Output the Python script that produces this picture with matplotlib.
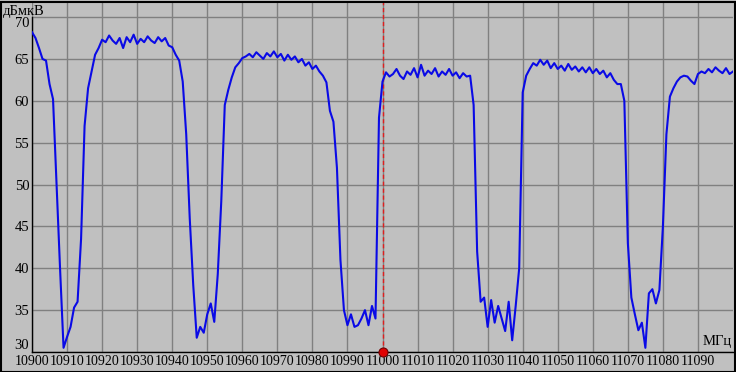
import numpy as np
import matplotlib
matplotlib.use("Agg")
import matplotlib.pyplot as plt
from matplotlib.patches import Rectangle

plt.rcParams['font.family'] = ['Liberation Serif', 'DejaVu Serif']

# Frequency, MHz (1 MHz step) and level, dBuV
freq_start = 10900
level = [
    68.2, 67.5, 66.3, 65.0, 64.8, 62.0, 60.2, 50.0, 40.0, 30.5,   # 10900
    31.8, 33.0, 35.3, 36.0, 43.5, 57.0, 61.5, 63.5, 65.5, 66.3,   # 10910
    67.3, 67.0, 67.8, 67.2, 66.8, 67.5, 66.3, 67.6, 67.0, 67.9,   # 10920
    66.8, 67.4, 67.0, 67.7, 67.2, 66.9, 67.6, 67.1, 67.5, 66.6,   # 10930
    66.4, 65.5, 64.8, 62.3, 56.0, 46.0, 38.0, 31.7, 33.0, 32.3,   # 10940
    34.5, 35.8, 33.6, 39.3, 48.0, 59.5, 61.3, 62.8, 64.0, 64.5,   # 10950
    65.1, 65.3, 65.6, 65.2, 65.8, 65.4, 65.0, 65.7, 65.3, 65.9,   # 10960
    65.2, 65.6, 64.8, 65.5, 64.9, 65.3, 64.6, 65.0, 64.2, 64.6,   # 10970
    63.8, 64.2, 63.5, 63.0, 62.2, 58.8, 57.5, 52.0, 41.0, 35.0,   # 10980
    33.2, 34.5, 33.0, 33.2, 34.0, 35.0, 33.2, 35.5, 34.0, 58.0,   # 10990
    62.3, 63.4, 62.9, 63.2, 63.8, 63.0, 62.6, 63.5, 63.1, 63.9,   # 11000
    62.8, 64.3, 63.0, 63.6, 63.2, 63.9, 62.9, 63.5, 63.1, 63.8,   # 11010
    63.0, 63.4, 62.7, 63.3, 62.9, 63.0, 59.5, 42.0, 36.0, 36.5,   # 11020
    33.0, 36.2, 33.5, 35.5, 34.0, 32.5, 36.0, 31.4, 35.5, 40.0,   # 11030
    61.0, 63.0, 63.8, 64.5, 64.2, 64.9, 64.3, 64.8, 63.9, 64.5,   # 11040
    63.8, 64.2, 63.6, 64.4, 63.7, 64.1, 63.5, 64.0, 63.4, 64.0,   # 11050
    63.3, 63.8, 63.2, 63.6, 62.8, 63.3, 62.5, 62.0, 62.0, 60.0,   # 11060
    43.0, 36.5, 34.5, 32.6, 33.5, 30.5, 37.0, 37.5, 35.8, 37.4,   # 11070
    45.0, 56.0, 60.5, 61.5, 62.3, 62.8, 63.0, 62.9, 62.4, 62.0,   # 11080
    63.2, 63.5, 63.3, 63.8, 63.4, 64.0, 63.6, 63.3, 63.9, 63.2,   # 11090
    63.5,                                                         # 11100
]
freq = freq_start + np.arange(len(level))

x_ticks = list(range(10900, 11091, 10))
y_ticks = [30, 35, 40, 45, 50, 55, 60, 65, 70]
marker_freq = 11000

W, H = 736, 372
fig = plt.figure(figsize=(W / 100, H / 100), dpi=100, facecolor='#c0c0c0')
ax = fig.add_axes([32 / W, 20 / H, 701 / W, 350 / H])
ax.set_facecolor('#c0c0c0')

ax.set_xlim(10900, 11100)
ax.set_ylim(30, 71.8)

ax.set_xticks(x_ticks)
ax.set_xticklabels([str(t) for t in x_ticks])
ax.set_yticks(y_ticks)
ax.set_yticklabels([str(t) for t in y_ticks])
ax.tick_params(length=0, labelsize=10.5, pad=2, colors='black')
ax.tick_params(axis='x', labelsize=10)
ax.grid(True, color='#808080', linewidth=1.0)
ax.set_axisbelow(True)

# end labels sit inside the scale, as on the instrument screen
ylabels = ax.get_yticklabels()
ylabels[0].set_verticalalignment('bottom')
ylabels[-1].set_verticalalignment('top')

for s in ['top', 'right']:
    ax.spines[s].set_visible(False)
ax.spines['left'].set_bounds(30, 70)
ax.spines['left'].set_linewidth(1)
ax.spines['bottom'].set_linewidth(1)

ax.plot(freq, level, color='#0a0ae6', linewidth=1.5, zorder=3)

ax.axvline(marker_freq, color='#e01e1e', linewidth=1.0, linestyle=(0, (3, 2)), zorder=2)
ax.plot([marker_freq], [30], marker='o', markersize=6.5, markerfacecolor='#e00000',
        markeredgecolor='#700000', markeredgewidth=0.8, clip_on=False, zorder=5)

fig.text(3 / W, 1 - 11 / H, 'дБмкВ', fontsize=10.5, va='center', ha='left', zorder=10)
fig.text(732 / W, 1 - 341 / H, 'МГц', fontsize=10.5, va='center', ha='right', zorder=10)

# outer frame
fig.add_artist(Rectangle((0.5 / W, 0.5 / H), 1 - 2 / W, 1 - 2 / H, transform=fig.transFigure,
                         fill=False, edgecolor='black', linewidth=1.5))

fig.savefig('out.png', dpi=100, facecolor=fig.get_facecolor())
